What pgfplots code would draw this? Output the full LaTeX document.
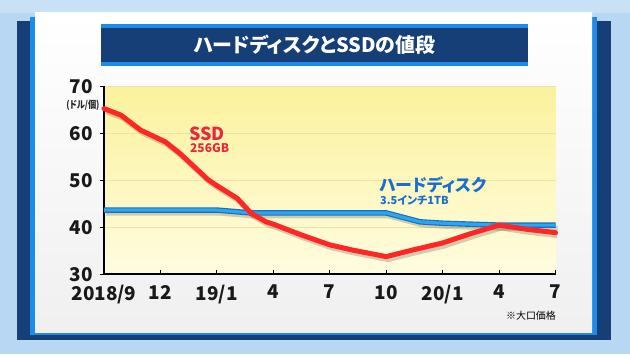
\documentclass[border=0pt]{standalone}
\usepackage{pgfplots}
\pgfplotsset{compat=1.18}
\usepackage{fontspec}
\setmainfont{Noto Sans CJK JP}
\newfontfamily\jp{Noto Sans CJK JP}[RawFeature=+palt]

\definecolor{bgblue}{HTML}{B8D7F2}
\definecolor{navy}{HTML}{163F78}
\definecolor{edgeblue}{HTML}{1F8BE8}
\definecolor{ssdred}{HTML}{FF2626}
\definecolor{ssdtext}{HTML}{E8283C}
\definecolor{hddblue}{HTML}{2AA8EE}
\definecolor{hdddark}{HTML}{1B6CC4}
\definecolor{hddtext}{HTML}{1A6ED2}
\definecolor{plottop}{HTML}{FBF29C}
\definecolor{plotbot}{HTML}{FFFCE0}
\definecolor{gridc}{HTML}{EDE3A8}

% SSD 256GB price (USD per unit)
\pgfplotstableread{
x y
0    65.2
0.3  63.8
0.65 60.6
1.09 58.1
1.35 55.6
1.85 50.0
2.0  48.8
2.36 46.1
2.61 42.9
2.87 41.1
3.0  40.6
3.5  38.3
4.0  36.2
4.4  35.1
5.0  33.7
5.5  35.2
6.0  36.6
6.5  38.6
7.0  40.4
7.5  39.5
8.0  38.8
}\ssd

% 3.5-inch 1TB hard disk price (USD per unit)
\pgfplotstableread{
x y
0   43.6
2.0 43.6
2.6 43.0
5.0 43.0
5.6 41.1
6.0 40.8
7.0 40.4
8.0 40.4
}\hdd

\begin{document}
\begin{tikzpicture}[x=1bp,y=1bp]
  % backdrop and panel frame
  \fill[bgblue] (0,0) rectangle (630,354);
  \fill[white,opacity=0.25] (0,354) rectangle (630,341);
  \fill[navy] (17,14) rectangle (611,333);
  \fill[edgeblue] (30,19) rectangle (597,337);
  \shade[top color=white,bottom color=black!6] (35,22) rectangle (592,341);
  % title band
  \fill[edgeblue] (101,288) rectangle (528,330);
  \fill[navy] (101,292) rectangle (528,326);
  \node[text=white,font=\jp\bfseries\fontsize{20}{20}\selectfont] at (314.5,309) {ハードディスクとSSDの値段};
  % plot background
  \shade[top color=plottop,bottom color=plotbot] (104,80) rectangle (555.5,268);

  \begin{axis}[
    at={(104bp,80bp)}, anchor=south west,
    scale only axis, width=451.5bp, height=188bp,
    xmin=0, xmax=8, ymin=30, ymax=70,
    axis lines=left,
    axis line style={-, line width=1.1bp, black},
    xtick={0,...,8},
    xticklabels={2018/9,12,19/1,4,7,10,20/1,4,7},
    ytick={30,40,...,70},
    ymajorgrids, grid style={gridc, line width=0.8bp},
    tick style={black, line width=1bp},
    major tick length=4bp,
    xtick align=inside, ytick align=outside,
    /pgf/number format/assume math mode=true,
    ticklabel style={font=\bfseries\fontsize{19}{19}\selectfont, text=black!90, inner sep=0pt},
    yticklabel style={xshift=-7bp, text depth=0pt},
    xticklabel style={yshift=-11bp},
    clip=false,
  ]
    % soft shadows
    \addplot[black, opacity=0.18, line width=5bp, line join=round,
      transform canvas={xshift=2bp,yshift=-3bp}] table {\hdd};
    \addplot[black, opacity=0.18, line width=5bp, line join=round,
      transform canvas={xshift=2bp,yshift=-3bp}] table {\ssd};
    % hard disk
    \addplot[hdddark, line width=5.5bp, line join=round] table {\hdd};
    \addplot[hddblue, line width=3.2bp, line join=round] table {\hdd};
    % SSD
    \addplot[ssdred, line width=5bp, line join=round, line cap=round] table {\ssd};
  \end{axis}

  % unit
  \node[font=\jp\bfseries\fontsize{10}{10}\selectfont, xscale=0.82, text=black!85] at (83,249) {(ドル/個)};
  % series labels
  \node[anchor=base west,inner sep=0,text=ssdtext,font=\jp\bfseries\fontsize{18}{18}\selectfont] at (189,214) {SSD};
  \node[anchor=base west,inner sep=0,text=ssdtext,font=\jp\bfseries\fontsize{12}{12}\selectfont] at (190,202) {256GB};
  \node[anchor=base west,inner sep=0,text=hddtext,font=\jp\bfseries\fontsize{17}{17}\selectfont] at (379,163) {ハードディスク};
  \node[anchor=base west,inner sep=0,text=hddtext,font=\jp\bfseries\fontsize{11}{11}\selectfont] at (380,150) {3.5インチ1TB};
  % footnote
  \node[font=\jp\fontsize{10}{10}\selectfont] at (531,38) {※大口価格};
\end{tikzpicture}
\end{document}
